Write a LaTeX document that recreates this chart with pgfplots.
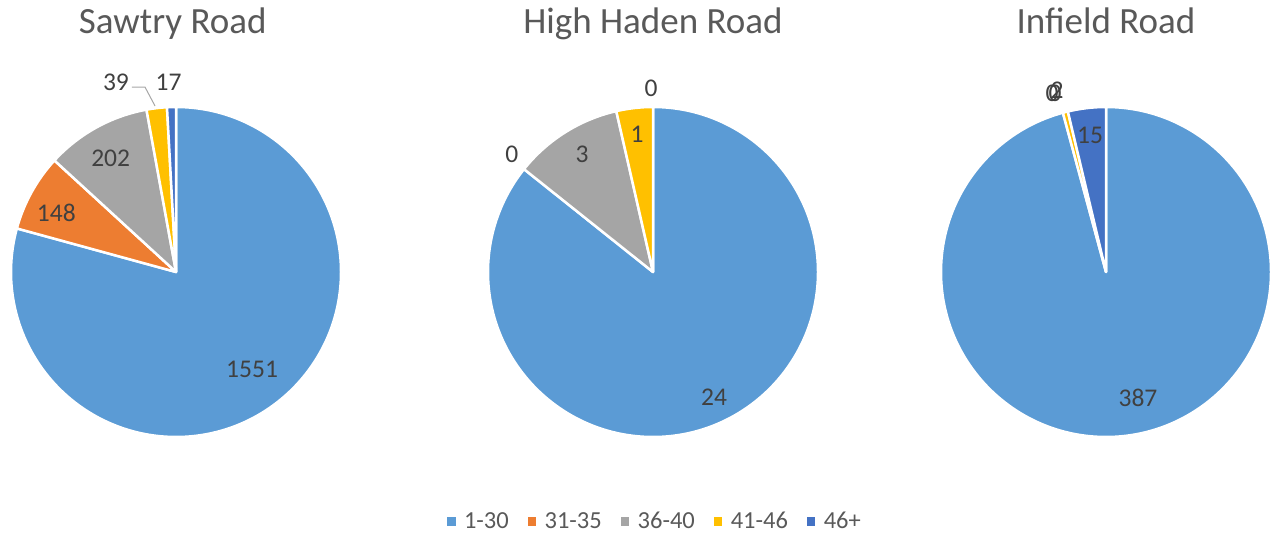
\documentclass[border=0pt]{standalone}
\usepackage{fontspec}
\setmainfont{Carlito}
\usepackage{pgfplots}
\pgfplotsset{compat=1.18}
\definecolor{slice1}{HTML}{5B9BD5}
\definecolor{slice2}{HTML}{ED7D31}
\definecolor{slice3}{HTML}{A5A5A5}
\definecolor{slice4}{HTML}{FFC000}
\definecolor{slice5}{HTML}{4472C4}
\definecolor{lbl}{HTML}{404040}
\definecolor{ttl}{HTML}{595959}
\definecolor{leader}{HTML}{A6A6A6}
\newcommand\lblfont{\fontsize{25.5bp}{30bp}\selectfont}
\newcommand\titlefont{\fontsize{37bp}{42bp}\selectfont}
\newcommand\legfont{\fontsize{24.5bp}{28bp}\selectfont}

% slices in order: 1-30, 31-35, 36-40, 41-46, 46+ (clockwise from 12 o'clock)
\newcommand\drawpie[1]{%
  \pgfplotsextra{%
    \xdef\pietotal{0}%
    \foreach \v in {#1}{\pgfmathsetmacro\t{\pietotal+\v}\xdef\pietotal{\t}}%
    \xdef\piecum{0}%
    \foreach \v [count=\i] in {#1}{%
      \pgfmathsetmacro\sa{90-360*(\piecum/\pietotal)}%
      \pgfmathsetmacro\nc{\piecum+\v}%
      \pgfmathsetmacro\ea{90-360*(\nc/\pietotal)}%
      \xdef\piecum{\nc}%
      \pgfmathsetmacro\cx{cos(\sa)}%
      \pgfmathsetmacro\cy{sin(\sa)}%
      \ifdim\v pt>0pt
        \filldraw[fill=slice\i, draw=white, line width=2.5bp, line join=round]
          (axis cs:0,0) -- (axis cs:\cx,\cy) arc[start angle=\sa, end angle=\ea, radius=165bp] -- cycle;
      \fi
    }%
  }%
}
\pgfplotsset{pie/.style={hide axis, scale only axis, width=330bp, height=330bp,
  xmin=-1, xmax=1, ymin=-1, ymax=1, clip=false, anchor=center}}

\begin{document}
\begin{tikzpicture}
\useasboundingbox (0,0) rectangle (1278bp,533bp);
% ---------------- Sawtry Road
\begin{axis}[pie, at={(176bp,261bp)}]
\drawpie{1551,148,202,39,17}
\node[text=ttl, font=\titlefont, anchor=base] at (axis cs:-0.02,1.448) {Sawtry Road};
\node[text=lbl, font=\lblfont] at (axis cs:0.461,-0.588) {1551};
\node[text=lbl, font=\lblfont] at (axis cs:-0.725,0.358) {148};
\node[text=lbl, font=\lblfont] at (axis cs:-0.396,0.691) {202};
\node[text=lbl, font=\lblfont] at (axis cs:-0.364,1.152) {39};
\node[text=lbl, font=\lblfont] at (axis cs:-0.045,1.152) {17};
\draw[leader, line width=1bp] (axis cs:-0.267,1.121) -- (axis cs:-0.188,1.121) -- (axis cs:-0.127,1.006);
\end{axis}
% ---------------- High Haden Road
\begin{axis}[pie, at={(653bp,261bp)},
  legend style={draw=none, fill=none, at={(0.506,-0.255)}, anchor=center,
    legend columns=5, font=\legfont, text=ttl,
    nodes={inner ysep=0.5bp},
    /tikz/every odd column/.append style={column sep=7bp},
    /tikz/every even column/.append style={column sep=17bp}},
  legend image code/.code={\fill[#1] (0bp,-3.8bp) rectangle (7.5bp,3.7bp);}]
\drawpie{24,0,3,1,0}
\node[text=ttl, font=\titlefont, anchor=base] at (axis cs:0,1.448) {High Haden Road};
\node[text=lbl, font=\lblfont] at (axis cs:0.370,-0.758) {24};
\node[text=lbl, font=\lblfont] at (axis cs:-0.855,0.715) {0};
\node[text=lbl, font=\lblfont] at (axis cs:-0.430,0.712) {3};
\node[text=lbl, font=\lblfont] at (axis cs:-0.097,0.833) {1};
\node[text=lbl, font=\lblfont] at (axis cs:-0.012,1.115) {0};
\addlegendimage{slice1}\addlegendentry{1-30}
\addlegendimage{slice2}\addlegendentry{31-35}
\addlegendimage{slice3}\addlegendentry{36-40}
\addlegendimage{slice4}\addlegendentry{41-46}
\addlegendimage{slice5}\addlegendentry{46+}
\end{axis}
% ---------------- Infield Road
\begin{axis}[pie, at={(1106bp,261bp)}]
\drawpie{387,0,0,2,15}
\node[text=ttl, font=\titlefont, anchor=base] at (axis cs:0,1.448) {Infield Road};
\node[text=lbl, font=\lblfont] at (axis cs:0.194,-0.764) {387};
\node[text=lbl, font=\lblfont] at (axis cs:-0.097,0.830) {15};
\node[text=lbl, font=\lblfont] at (axis cs:-0.327,1.085) {0};
\node[text=lbl, font=\lblfont] at (axis cs:-0.309,1.085) {0};
\node[text=lbl, font=\lblfont] at (axis cs:-0.297,1.103) {2};
\end{axis}
\end{tikzpicture}
\end{document}
